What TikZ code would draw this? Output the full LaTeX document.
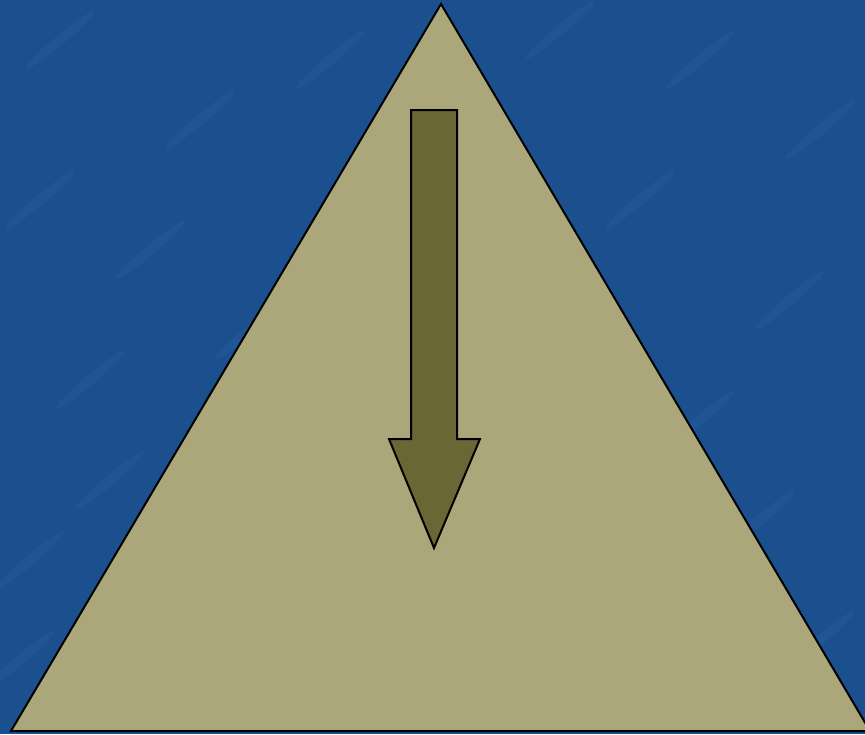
\documentclass[tikz,border=0pt]{standalone}
\definecolor{slideblue}{HTML}{1B4F8E}
\definecolor{streakblue}{HTML}{2A63A3}
\definecolor{pyramidtan}{HTML}{ACA77A}
\definecolor{arrowolive}{HTML}{6A6734}
\usepackage{tikz}
\usetikzlibrary{calc}

\begin{document}
\begin{tikzpicture}[x=1pt, y=-1pt, line join=miter]
  % slide background
  \fill[slideblue] (0,0) rectangle (865,734);
  \useasboundingbox (0,0) rectangle (865,734);
  \begin{scope}
    \clip (0,0) rectangle (865,734);
    \foreach \sx/\sy in {60/40, 200/120, 700/60, 790/300, 90/380, 30/560, 760/520, 640/200, 150/250,
                         330/60, 560/30, 820/130, 40/200, 250/330, 700/420, 110/480, 820/640, 20/660}
      \fill[streakblue, opacity=0.3] (\sx,\sy) ellipse [x radius=45, y radius=5, rotate=40];
    % pyramid
    \draw[fill=pyramidtan, line width=2pt] (441,4) -- (870,731) -- (11,731) -- cycle;
  \end{scope}
  % downward arrow
  \draw[fill=arrowolive, line width=2pt]
    (411,110) -- (457,110) -- (457,439) -- (480,439) -- (434,548)
    -- (389,439) -- (411,439) -- cycle;
\end{tikzpicture}
\end{document}
